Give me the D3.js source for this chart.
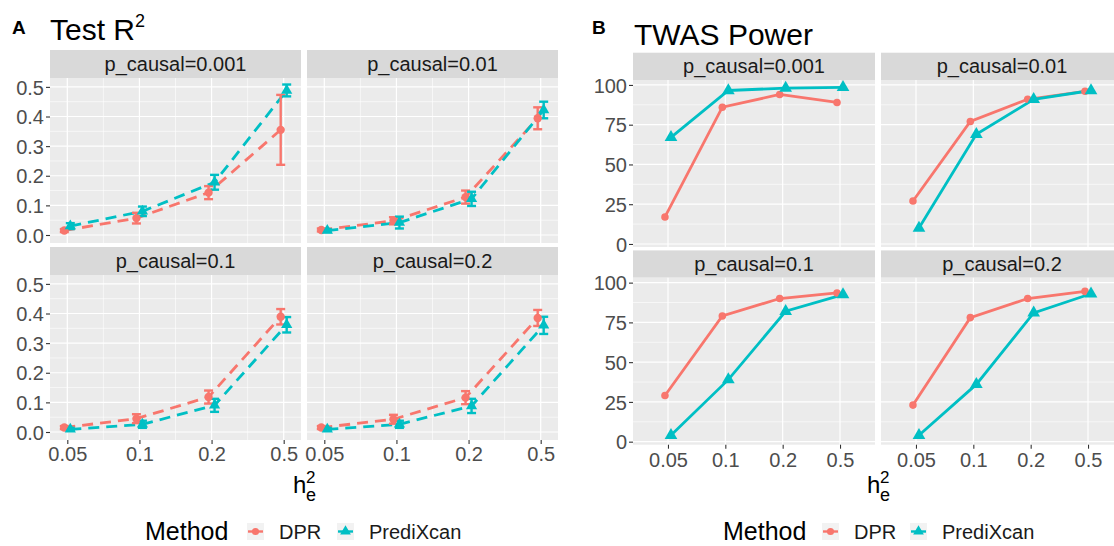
<!DOCTYPE html>
<html>
<head>
<meta charset="utf-8">
<script src="https://cdn.jsdelivr.net/npm/d3@7/dist/d3.min.js"></script>
<style>
body { margin: 0; background: #fff; }
svg text { font-family: 'Liberation Sans', Arial, Helvetica, sans-serif; }
</style>
</head>
<body>
<div class="svg-container"></div>
<script>
// categories
var hLabels = ['0.05', '0.1', '0.2', '0.5'];
var facets = ['p_causal=0.001', 'p_causal=0.01', 'p_causal=0.1', 'p_causal=0.2'];
var methods = ['DPR', 'PrediXcan'];
var colours = ['#F8766D', '#00BFC4'];

// tick labels
var r2Ticks = [0, 0.1, 0.2, 0.3, 0.4, 0.5];
var powerTicks = [0, 25, 50, 75, 100];

// Test R2: mean and half-width of error bar, one row per facet
var r2DPR = [
	[0.015, 0.057, 0.143, 0.355],
	[0.017, 0.048, 0.128, 0.394],
	[0.015, 0.045, 0.118, 0.389],
	[0.015, 0.043, 0.116, 0.385]
];
var r2DPRErr = [
	[0.005, 0.018, 0.022, 0.118],
	[0.005, 0.012, 0.022, 0.037],
	[0.005, 0.015, 0.022, 0.026],
	[0.005, 0.015, 0.022, 0.027]
];
var r2Pred = [
	[0.030, 0.080, 0.178, 0.488],
	[0.015, 0.042, 0.122, 0.422],
	[0.009, 0.026, 0.090, 0.362],
	[0.009, 0.026, 0.088, 0.360]
];
var r2PredErr = [
	[0.010, 0.016, 0.025, 0.020],
	[0.005, 0.020, 0.024, 0.028],
	[0.005, 0.012, 0.022, 0.026],
	[0.005, 0.012, 0.024, 0.029]
];

// TWAS power (%)
var powerDPR = [
	[17, 86, 94, 89],
	[27, 77, 91, 96],
	[29, 79, 90, 93.5],
	[23, 78, 90, 94.5]
];
var powerPred = [
	[67, 96.5, 98, 98.5],
	[10, 69, 91, 96.5],
	[4, 39, 82, 92.5],
	[4, 36, 81, 93]
];

var svg = d3.select('.svg-container')
	.append('svg')
	.attr('width', 1114)
	.attr('height', 546);

function midpoints(arr) {
	return d3.pairs(arr).map(function(p) { return (p[0] + p[1]) / 2; });
}

function drawFacets(cfg) {
	facets.forEach(function(label, i) {
		var col = i % 2;
		var row = Math.floor(i / 2);
		var g = svg.append('g')
			.attr('transform', 'translate(' + cfg.cols[col] + ',' + cfg.rows[row] + ')');

		var x = d3.scalePoint()
			.domain(hLabels)
			.range([0, cfg.width])
			.padding(cfg.pad);
		var y = d3.scaleLinear()
			.domain(cfg.yDomain)
			.range([cfg.height, 0]);

		// strip
		g.append('rect')
			.attr('x', 0).attr('y', -cfg.strip)
			.attr('width', cfg.width).attr('height', cfg.strip)
			.attr('fill', '#D9D9D9');
		g.append('text')
			.attr('x', cfg.width / 2)
			.attr('y', -cfg.strip / 2 + 7)
			.attr('text-anchor', 'middle')
			.attr('font-size', 20)
			.attr('fill', '#1A1A1A')
			.text(label);

		// panel background + grid
		g.append('rect')
			.attr('width', cfg.width).attr('height', cfg.height)
			.attr('fill', '#EBEBEB');

		g.selectAll('.ymin')
			.data(midpoints(cfg.ticks))
			.enter().append('line')
			.attr('x1', 0).attr('x2', cfg.width)
			.attr('y1', function(d) { return y(d); })
			.attr('y2', function(d) { return y(d); })
			.attr('stroke', '#fff').attr('stroke-width', 0.6);
		if (cfg.xMinor) {
			g.selectAll('.xmin')
				.data(midpoints(hLabels.map(function(h) { return x(h); })))
				.enter().append('line')
				.attr('x1', function(d) { return d; })
				.attr('x2', function(d) { return d; })
				.attr('y1', 0).attr('y2', cfg.height)
				.attr('stroke', '#fff').attr('stroke-width', 0.6);
		}
		g.selectAll('.ymaj')
			.data(cfg.ticks)
			.enter().append('line')
			.attr('x1', 0).attr('x2', cfg.width)
			.attr('y1', function(d) { return y(d); })
			.attr('y2', function(d) { return y(d); })
			.attr('stroke', '#fff').attr('stroke-width', 1.2);
		g.selectAll('.xmaj')
			.data(hLabels)
			.enter().append('line')
			.attr('x1', function(d) { return x(d); })
			.attr('x2', function(d) { return x(d); })
			.attr('y1', 0).attr('y2', cfg.height)
			.attr('stroke', '#fff').attr('stroke-width', 1.2);

		// axes
		if (col === 0) {
			var ya = g.append('g')
				.call(d3.axisLeft(y).tickValues(cfg.ticks).tickFormat(cfg.fmt).tickSize(4).tickPadding(2));
			styleAxis(ya);
			ya.selectAll('text').attr('dy', '0.36em');
		}
		if (row === 1) {
			var xa = g.append('g')
				.attr('transform', 'translate(0,' + cfg.height + ')')
				.call(d3.axisBottom(x).tickSize(4).tickPadding(cfg.xPad));
			styleAxis(xa);
		}

		// series
		var series = cfg.series.map(function(s, m) {
			return { values: s[i], err: s.err ? s.err[i] : null, m: m };
		});
		var dodge = [-3, 3];
		var px = function(m) {
			return function(d, j) { return x(hLabels[j]) + dodge[m]; };
		};

		series.forEach(function(s) {
			var line = d3.line().x(px(s.m)).y(function(d) { return y(d); });
			g.append('path')
				.datum(s.values)
				.attr('d', line)
				.attr('fill', 'none')
				.attr('stroke', colours[s.m])
				.attr('stroke-width', cfg.lineWidth)
				.attr('stroke-dasharray', cfg.dash);
		});

		series.forEach(function(s) {
			if (!s.err) return;
			var eg = g.append('g').attr('stroke', colours[s.m]).attr('stroke-width', 2.4);
			s.values.forEach(function(v, j) {
				var cx = px(s.m)(v, j);
				var lo = y(v - s.err[j]);
				var hi = y(v + s.err[j]);
				eg.append('line').attr('x1', cx).attr('x2', cx).attr('y1', lo).attr('y2', hi);
				eg.append('line').attr('x1', cx - 4.5).attr('x2', cx + 4.5).attr('y1', lo).attr('y2', lo);
				eg.append('line').attr('x1', cx - 4.5).attr('x2', cx + 4.5).attr('y1', hi).attr('y2', hi);
			});
		});

		series.forEach(function(s) {
			var sym = d3.symbol()
				.type(s.m === 0 ? d3.symbolCircle : d3.symbolTriangle)
				.size(s.m === 0 ? cfg.circleSize : cfg.triSize);
			g.selectAll('.pt' + s.m)
				.data(s.values)
				.enter().append('path')
				.attr('d', sym)
				.attr('transform', function(d, j) {
					return 'translate(' + px(s.m)(d, j) + ',' + y(d) + ')';
				})
				.attr('fill', colours[s.m]);
		});
	});
}

function styleAxis(a) {
	a.select('.domain').remove();
	a.selectAll('.tick line').attr('stroke', '#333').attr('stroke-width', 1.1);
	a.selectAll('.tick text')
		.attr('font-size', 20)
		.attr('fill', '#4D4D4D')
		.attr('font-family', "'Liberation Sans', Arial, sans-serif");
}

function drawLegend(x0, xs) {
	var g = svg.append('g');
	g.append('text')
		.attr('x', x0).attr('y', 540)
		.attr('font-size', 25)
		.attr('fill', '#000')
		.text('Method');
	methods.forEach(function(name, m) {
		var kx = xs[m];
		g.append('rect')
			.attr('x', kx).attr('y', 523)
			.attr('width', 17).attr('height', 17)
			.attr('fill', '#F2F2F2');
		g.append('line')
			.attr('x1', kx + 1).attr('x2', kx + 16)
			.attr('y1', 531.5).attr('y2', 531.5)
			.attr('stroke', colours[m]).attr('stroke-width', 2.4);
		g.append('path')
			.attr('d', d3.symbol().type(m === 0 ? d3.symbolCircle : d3.symbolTriangle).size(m === 0 ? 40 : 50))
			.attr('transform', 'translate(' + (kx + 8.5) + ',531.5)')
			.attr('fill', colours[m]);
		g.append('text')
			.attr('x', kx + 32).attr('y', 539)
			.attr('font-size', 20)
			.attr('fill', '#1A1A1A')
			.text(name);
	});
}

function drawXTitle(hx) {
	svg.append('text').attr('x', hx).attr('y', 493).attr('font-size', 24).text('h');
	svg.append('text').attr('x', hx + 13).attr('y', 483).attr('font-size', 17).text('2');
	svg.append('text').attr('x', hx + 13).attr('y', 501).attr('font-size', 18).text('e');
}

var r2Series = [r2DPR, r2Pred];
r2Series[0].err = r2DPRErr;
r2Series[1].err = r2PredErr;

// Panel A: Test R2
drawFacets({
	cols: [50, 307], rows: [78, 275],
	width: 251, height: 165, strip: 28,
	pad: 0.24, yDomain: [-0.027, 0.530],
	ticks: r2Ticks, fmt: d3.format('.1f'),
	xMinor: true, xPad: 3,
	series: r2Series,
	lineWidth: 2.8, dash: '11,7',
	circleSize: 55, triSize: 55
});

// Panel B: TWAS power
drawFacets({
	cols: [633, 881], rows: [80, 277.7],
	width: 242, height: 167, strip: 27.3,
	pad: 0.61, yDomain: [-1.9, 103.1],
	ticks: powerTicks, fmt: d3.format('d'),
	xMinor: false, xPad: 4,
	series: [powerDPR, powerPred],
	lineWidth: 2.8, dash: null,
	circleSize: 45, triSize: 70
});

// titles
svg.append('text').attr('x', 12).attr('y', 34).attr('font-size', 19).attr('font-weight', 'bold').text('A');
svg.append('text').attr('x', 50).attr('y', 40).attr('font-size', 30)
	.text('Test R')
	.append('tspan').attr('font-size', 18).attr('dy', -13).text('2');
svg.append('text').attr('x', 592).attr('y', 34).attr('font-size', 19).attr('font-weight', 'bold').text('B');
svg.append('text').attr('x', 634).attr('y', 45).attr('font-size', 30).text('TWAS Power');

drawXTitle(293);
drawXTitle(867);

drawLegend(145, [247, 337]);
drawLegend(723, [822, 910]);
</script>
</body>
</html>
